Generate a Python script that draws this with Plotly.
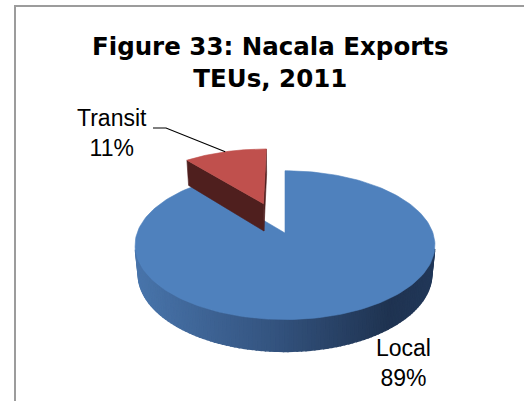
import numpy as np
import plotly.graph_objects as go

# ---- data -------------------------------------------------------------
categories = ["Local", "Transit"]
shares = [89, 11]                      # share of export TEUs, %
explode = [0.0, 0.46]                  # slice pull-out, fraction of radius
title_lines = ["Figure 33: Nacala Exports", "TEUs, 2011"]

# ---- style ------------------------------------------------------------
W, H = 524, 401
top_colors = ["#4f81bd", "#c0504d"]
radial_colors = ["#2c4870", "#4f1f1e"]
side_stops = [(0.0, (72, 116, 170)), (0.45, (52, 84, 128)),
              (0.85, (31, 51, 81)), (1.0, (33, 55, 88))]
red_side = (80, 31, 30)

# pseudo-3D camera (pixel space)
CX, CY = 285, 233
F = 790.0
D = 5.34
ALPHA = np.radians(29.3)
THICK = 0.226


def project(u, v, h):
    d = D - h * np.sin(ALPHA) - v * np.cos(ALPHA)
    x = CX + u * F / d
    y = CY - (h * np.cos(ALPHA) - v * np.sin(ALPHA)) * F / d
    return x, y


def rim(theta, off, h):
    return project(off[0] + np.sin(theta), off[1] - np.cos(theta), h)


def side_colour(t):
    t = min(max(t, 0.0), 1.0)
    for (t0, c0), (t1, c1) in zip(side_stops[:-1], side_stops[1:]):
        if t <= t1:
            k = (t - t0) / (t1 - t0) if t1 > t0 else 0
            c = [round(a + (b - a) * k) for a, b in zip(c0, c1)]
            return "rgb({},{},{})".format(*c)
    return "rgb({},{},{})".format(*side_stops[-1][1])


def poly(xs, ys, colour, name, lw=0.6):
    return go.Scatter(x=list(xs) + [xs[0]], y=list(ys) + [ys[0]], mode="lines",
                      fill="toself", fillcolor=colour,
                      line=dict(color=colour, width=lw),
                      hoverinfo="skip", showlegend=False, name=name)


cam = np.array([0.0, D * np.cos(ALPHA)])    # camera (u, v)
total = float(sum(shares))
bounds = np.concatenate([[0], np.cumsum(shares)]) / total * 2 * np.pi

slices = []
for i, name in enumerate(categories):
    a0, a1 = bounds[i], bounds[i + 1]
    mid = 0.5 * (a0 + a1)
    off = (explode[i] * np.sin(mid), -explode[i] * np.cos(mid))
    depth = -off[1] - np.cos(mid)          # larger = further back
    slices.append((depth, i, a0, a1, off))

traces = []
for depth, i, a0, a1, off in sorted(slices, reverse=True):
    name = categories[i]
    apex = np.array(off)
    # radial walls
    for ang, sgn in ((a0, -1), (a1, 1)):
        n = sgn * np.array([np.cos(ang), np.sin(ang)])
        if np.dot(cam - apex, n) > 1e-6:
            p1 = project(off[0], off[1], 0)
            p2 = rim(ang, off, 0)
            p3 = rim(ang, off, -THICK)
            p4 = project(off[0], off[1], -THICK)
            traces.append(poly([p1[0], p2[0], p3[0], p4[0]],
                               [p1[1], p2[1], p3[1], p4[1]],
                               radial_colors[i], name))
    # outer wall, in narrow strips for the shading
    th = np.linspace(a0, a1, max(int((a1 - a0) / np.radians(1.5)), 2) + 1)
    xl, _ = project(-1, 0, 0)
    xr, _ = project(1, 0, 0)
    for t0, t1 in zip(th[:-1], th[1:]):
        tm = 0.5 * (t0 + t1)
        p = apex + np.array([np.sin(tm), -np.cos(tm)])
        n = np.array([np.sin(tm), -np.cos(tm)])
        if np.dot(cam - p, n) <= 0:
            continue
        q = [rim(t0, off, 0), rim(t1, off, 0), rim(t1, off, -THICK), rim(t0, off, -THICK)]
        xm = 0.5 * (q[0][0] + q[1][0])
        col = side_colour((xm - xl) / (xr - xl)) if i == 0 else "rgb({},{},{})".format(*red_side)
        traces.append(poly([a[0] for a in q], [a[1] for a in q], col, name, lw=1.4))
    # top face
    arc = np.linspace(a0, a1, 200)
    ax, ay = project(off[0], off[1], 0)
    xs = [ax] + [rim(t, off, 0)[0] for t in arc]
    ys = [ay] + [rim(t, off, 0)[1] for t in arc]
    traces.append(poly(xs, ys, top_colors[i], name))

fig = go.Figure(traces)

# leader line for the Transit label, ending on the middle of its rim
ti = categories.index("Transit")
tmid = 0.5 * (bounds[ti] + bounds[ti + 1])
toff = (explode[ti] * np.sin(tmid), -explode[ti] * np.cos(tmid))
ex, ey = rim(tmid, toff, 0)
fig.add_trace(go.Scatter(x=[153, 166, ex], y=[128, 128, ey], mode="lines",
                         line=dict(color="black", width=1.2),
                         hoverinfo="skip", showlegend=False))

label_font = dict(family="Liberation Sans, Arial", size=23, color="black")
pos = {"Transit": (112, 133), "Local": (403, 363)}
for name, s in zip(categories, shares):
    x, y = pos[name]
    fig.add_annotation(x=x, y=y, text=f"{name}<br>{round(s / total * 100)}%",
                       showarrow=False, font=label_font, align="center",
                       xanchor="center", yanchor="middle")

fig.add_annotation(x=270, y=62, text="<b>" + "<br>".join(title_lines) + "</b>",
                   showarrow=False, align="center", xanchor="center", yanchor="middle",
                   font=dict(family="DejaVu Sans", size=24.5, color="black"))

# chart frame
fig.add_shape(type="rect", x0=15, y0=6, x1=W + 20, y1=H + 20,
              line=dict(color="#9c9c9c", width=2), fillcolor="rgba(0,0,0,0)")

fig.update_layout(
    width=W, height=H, margin=dict(l=0, r=0, t=0, b=0),
    paper_bgcolor="white", plot_bgcolor="white",
    xaxis=dict(range=[0, W], visible=False, fixedrange=True),
    yaxis=dict(range=[H, 0], visible=False, fixedrange=True),
    showlegend=False,
)

fig.write_html("out.html")
